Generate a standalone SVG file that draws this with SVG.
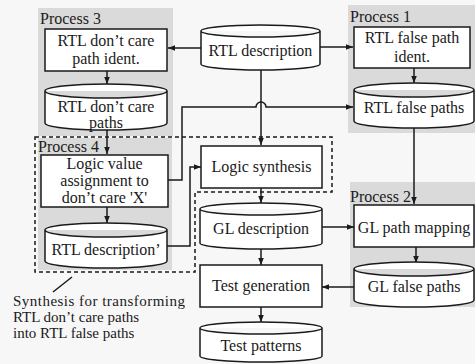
<svg xmlns="http://www.w3.org/2000/svg" width="475" height="364" viewBox="0 0 475 364">
<style>
.bg{fill:#f7f7f7}
.gray{fill:#dadada}
.box{fill:#ffffff;stroke:#1a1a1a;stroke-width:1.5}
.cyl{fill:#ffffff;stroke:#1a1a1a;stroke-width:1.5}
.line{fill:none;stroke:#1a1a1a;stroke-width:1.5}
.dash{fill:none;stroke:#1a1a1a;stroke-width:1.5;stroke-dasharray:4 3}
text{font-family:"Liberation Serif","Times New Roman",serif;font-size:16px;fill:#1a1a1a}
.c{text-anchor:middle}
.note{font-size:15px}
</style>
<defs>
<marker id="arr" viewBox="0 0 8 8" refX="8" refY="4" markerWidth="7" markerHeight="7" markerUnits="userSpaceOnUse" orient="auto">
<path d="M0,0.8 L8,4 L0,7.2 Z" fill="#1a1a1a"/>
</marker>
</defs>
<rect class="bg" x="0" y="0" width="475" height="364"/>
<g id="regions">
<rect class="gray" x="38" y="8" width="135" height="128"/>
<rect class="gray" x="38" y="138" width="134" height="132"/>
<rect class="gray" x="348" y="5" width="127" height="128"/>
<rect class="gray" x="350" y="182" width="125" height="125"/>
<path class="dash" d="M35,137 H332 V192 H195 V272 H35 Z"/>
<text x="40" y="24">Process 3</text>
<text x="38" y="152">Process 4</text>
<text x="350" y="22">Process 1</text>
<text x="350" y="202">Process 2</text>
</g>
<g id="connectors">
<path class="line" d="M201,48 H168" marker-end="url(#arr)"/>
<path class="line" d="M320,47 H353" marker-end="url(#arr)"/>
<path class="line" d="M107,71 V84" marker-end="url(#arr)"/>
<path class="line" d="M107,130 V154" marker-end="url(#arr)"/>
<path class="line" d="M107,207 V223" marker-end="url(#arr)"/>
<path class="line" d="M414,68 V83" marker-end="url(#arr)"/>
<path class="line" d="M414,128 V204" marker-end="url(#arr)"/>
<path class="line" d="M416,247 V263" marker-end="url(#arr)"/>
<path class="line" d="M261,70 V145" marker-end="url(#arr)"/>
<path class="line" d="M168,180 H182 V107 H256 A5,5 0 0 1 266,107 H353" marker-end="url(#arr)"/>
<path class="line" d="M167,246 H190 V167 H201" marker-end="url(#arr)"/>
<path class="line" d="M261,188 V203" marker-end="url(#arr)"/>
<path class="line" d="M322,227 H354" marker-end="url(#arr)"/>
<path class="line" d="M261,249 V265" marker-end="url(#arr)"/>
<path class="line" d="M354,287 H322" marker-end="url(#arr)"/>
<path class="line" d="M261,307 V322" marker-end="url(#arr)"/>
<path class="line" d="M72,277 L53,292"/>
</g>
<g id="rtl-description">
<path class="cyl" d="M201,31 A59.5,6 0 0 1 320,31 V64 A59.5,6 0 0 1 201,64 Z M201,31 A59.5,6 0 0 0 320,31"/>
<text class="c" x="260.5" y="56">RTL description</text>
</g>
<g id="rtl-dont-care-ident">
<rect class="box" x="45" y="29" width="122" height="42"/>
<text class="c" x="106" y="46">RTL don’t care</text>
<text class="c" x="106" y="64">path ident.</text>
</g>
<g id="rtl-dont-care-paths">
<path class="cyl" d="M45,91 A61,7 0 0 1 167,91 V123 A61,7 0 0 1 45,123 Z M45,91 A61,7 0 0 0 167,91"/>
<text class="c" x="106" y="112">RTL don’t care</text>
<text class="c" x="106" y="128">paths</text>
</g>
<g id="logic-value-assignment">
<rect class="box" x="41" y="155" width="127" height="52"/>
<text class="c" x="104.5" y="169">Logic value</text>
<text class="c" x="104.5" y="186">assignment to</text>
<text class="c" x="104.5" y="203">don’t care 'X'</text>
</g>
<g id="rtl-description-prime">
<path class="cyl" d="M45,230 A61,7 0 0 1 167,230 V261 A61,7 0 0 1 45,261 Z M45,230 A61,7 0 0 0 167,230"/>
<text class="c" x="106" y="255">RTL description’</text>
</g>
<g id="rtl-false-path-ident">
<rect class="box" x="354" y="27" width="116" height="41"/>
<text class="c" x="412" y="43">RTL false path</text>
<text class="c" x="412" y="62">ident.</text>
</g>
<g id="rtl-false-paths">
<path class="cyl" d="M354,90 A60,7 0 0 1 474,90 V121 A60,7 0 0 1 354,121 Z M354,90 A60,7 0 0 0 474,90"/>
<text class="c" x="414" y="113">RTL false paths</text>
</g>
<g id="logic-synthesis">
<rect class="box" x="201" y="146" width="121" height="42"/>
<text class="c" x="261.5" y="172">Logic synthesis</text>
</g>
<g id="gl-description">
<path class="cyl" d="M200,209 A61,6 0 0 1 322,209 V243 A61,6 0 0 1 200,243 Z M200,209 A61,6 0 0 0 322,209"/>
<text class="c" x="261" y="234">GL description</text>
</g>
<g id="gl-path-mapping">
<rect class="box" x="354" y="205" width="120" height="42"/>
<text class="c" x="414" y="233">GL path mapping</text>
</g>
<g id="gl-false-paths">
<path class="cyl" d="M354,269 A60,7 0 0 1 474,269 V300 A60,7 0 0 1 354,300 Z M354,269 A60,7 0 0 0 474,269"/>
<text class="c" x="414" y="292">GL false paths</text>
</g>
<g id="test-generation">
<rect class="box" x="200" y="265" width="122" height="42"/>
<text class="c" x="261" y="291">Test generation</text>
</g>
<g id="test-patterns">
<path class="cyl" d="M200,328 A61,6 0 0 1 322,328 V356 A61,6 0 0 1 200,356 Z M200,328 A61,6 0 0 0 322,328"/>
<text class="c" x="261" y="351">Test patterns</text>
</g>
<g id="note">
<text class="note" x="13" y="306" textLength="172">Synthesis for transforming</text>
<text class="note" x="13" y="322">RTL don’t care paths</text>
<text class="note" x="13" y="338">into RTL false paths</text>
</g>
</svg>
